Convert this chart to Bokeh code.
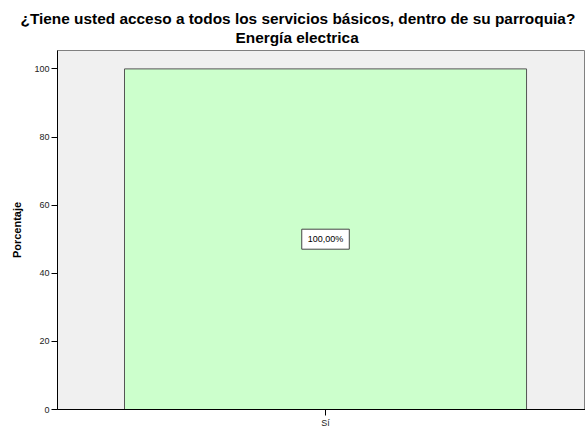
from bokeh.plotting import figure
from bokeh.models import Range1d, Label, ColumnDataSource, FixedTicker, Title
from bokeh.embed import file_html
from bokeh.resources import INLINE

# Data
categories = ["Sí"]
percentages = [100.0]
y_ticks = [0, 20, 40, 60, 80, 100]
title_lines = ["¿Tiene usted acceso a todos los servicios básicos, dentro de su parroquia?",
               "Energía electrica"]

xs = list(range(len(categories)))
source = ColumnDataSource(data=dict(x=xs, top=percentages))

p = figure(width=585, height=430, output_backend="svg", toolbar_location=None,
           x_range=Range1d(-0.5, 0.485), y_range=Range1d(0, 105.4),
           min_border_left=57, min_border_right=0, min_border_top=50, min_border_bottom=17,
           background_fill_color="#F0F0F0", border_fill_color="white")

# stack title lines: add last line first so the first line ends up on top
standoffs = [-11, 10]
offsets = [-37, 178]
for line, so, off in reversed(list(zip(title_lines, standoffs, offsets))):
    t = Title(text=line, align="left", text_font="Liberation Sans", text_font_size="15.4px",
              text_font_style="bold", text_color="#000000", standoff=so, offset=off,
              text_line_height=1.0)
    p.add_layout(t, "above")

p.outline_line_color = "#808080"
p.outline_line_width = 1

p.vbar(x="x", top="top", width=0.75, bottom=0, source=source,
       fill_color="#CCFFCC", line_color="#555555", line_width=1)

for xi, v in zip(xs, percentages):
    txt = f"{v:.2f}".replace(".", ",") + "%"
    p.add_layout(Label(x=xi, y=v / 2, text=txt, text_align="center", text_baseline="middle",
                       text_font="Liberation Sans", text_font_size="9px", text_color="#000000",
                       background_fill_color="white", border_line_color="#444444",
                       border_line_width=1, padding=(6, 5)))

p.xgrid.visible = False
p.ygrid.visible = False

p.xaxis.ticker = FixedTicker(ticks=xs)
p.xaxis.major_label_overrides = {i: c for i, c in zip(xs, categories)}
p.yaxis.ticker = FixedTicker(ticks=y_ticks)

for ax in (p.xaxis[0], p.yaxis[0]):
    ax.axis_line_color = "#000000"
    ax.major_tick_line_color = "#000000"
    ax.major_tick_out = 6
    ax.major_tick_in = 0
    ax.minor_tick_line_color = None
    ax.major_label_text_font = "Liberation Sans"
    ax.major_label_text_font_size = "9px"
    ax.major_label_text_color = "#222222"
    ax.major_label_standoff = 2

p.yaxis.axis_label = "Porcentaje"
p.yaxis.axis_label_text_font = "Liberation Sans"
p.yaxis.axis_label_text_font_size = "11px"
p.yaxis.axis_label_text_font_style = "bold"
p.yaxis.axis_label_text_color = "#000000"
p.yaxis.axis_label_standoff = 8

open("out.html", "w").write(file_html(p, INLINE))
